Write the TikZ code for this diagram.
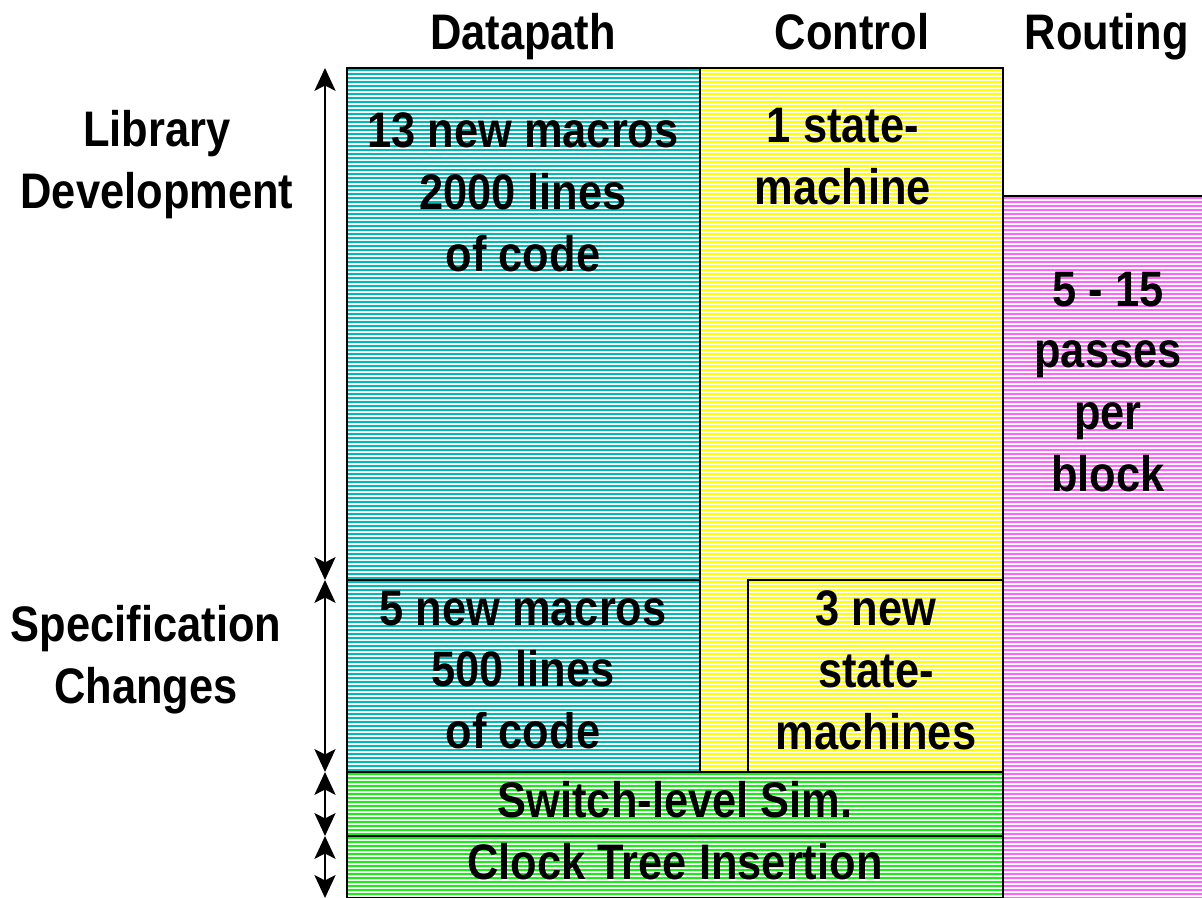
\documentclass[tikz,border=0pt]{standalone}
\usepackage{fontspec}
\setmainfont{Liberation Sans}[FakeStretch=0.87]
\usetikzlibrary{arrows.meta}
\definecolor{dpcyan}{RGB}{0,185,185}
\definecolor{ctyellow}{RGB}{255,255,0}
\definecolor{rtpink}{RGB}{255,100,255}
\definecolor{simgreen}{RGB}{20,240,20}
\begin{document}
\begin{tikzpicture}[x=0.01cm, y=-0.01cm,
    font=\fontsize{14.2}{17.6}\selectfont\bfseries,
    hatch/.style={line width=0.5pt},
    frame/.style={draw=black, line width=0.8pt},
    span/.style={{Stealth[length=6.5pt,width=6pt,inset=1.5pt]}-{Stealth[length=6.5pt,width=6pt,inset=1.5pt]}, line width=0.6pt},
    txt/.style={align=center, inner sep=0pt}]
  \useasboundingbox (0,0) rectangle (1202,898);
  % striped fills
  \foreach \xa/\ya/\xb/\yb/\col in {347/68/700/772/dpcyan, 700/68/1003/772/ctyellow,
      1003/196/1202/898/rtpink, 347/772/1003/898/simgreen} {
    \pgfmathtruncatemacro\ya{\ya+2}
    \pgfmathtruncatemacro\ys{\ya+4}
    \foreach \yy in {\ya,\ys,...,\yb}
      \draw[hatch, draw=\col] (\xa,\yy) -- (\xb,\yy);
  }
  % frames
  \draw[frame] (347,68) rectangle (700,580);
  \draw[frame] (347,580) rectangle (700,772);
  \draw[frame] (700,68) rectangle (1003,772);
  \draw[frame] (748,772) |- (1003,580);
  \draw[frame] (1003,898) |- (1202,196);
  \draw[frame] (347,772) rectangle (1003,836);
  \draw[frame] (347,836) rectangle (1003,898);
  % column heads
  \node[txt, anchor=base] (hdp) at (523,50) {Datapath};
  \node[txt, anchor=base] (hct) at (852,50) {Control};
  \node[txt, anchor=base] (hrt) at (1107,50) {Routing};
  % row labels
  \node[txt] (lib) at (157,165) {Library\\Development};
  \node[txt] (spec) at (146,660) {Specification\\Changes};
  % cell texts
  \node[txt] (dplib) at (523,192) {13 new macros\\2000 lines\\of code};
  \node[txt] (ctlib) at (843,157) {1 state-\\machine};
  \node[txt] (rt) at (1108,382) {5 - 15\\passes\\per\\block};
  \node[txt] (dpspec) at (523,670) {5 new macros\\500 lines\\of code};
  \node[txt] (ctspec) at (876,670) {3 new\\state-\\machines};
  \node[txt] (sim) at (675,800) {Switch-level Sim.};
  \node[txt] (clk) at (675,862) {Clock Tree Insertion};
  % spans
  \coordinate (a0) at (325,68);
  \coordinate (a1) at (325,580);
  \coordinate (a2) at (325,772);
  \coordinate (a3) at (325,836);
  \coordinate (a4) at (325,898);
  \draw[span] (a0) -- (a1);
  \draw[span] (a1) -- (a2);
  \draw[span] (a2) -- (a3);
  \draw[span] (a3) -- (a4);
\end{tikzpicture}
\end{document}
